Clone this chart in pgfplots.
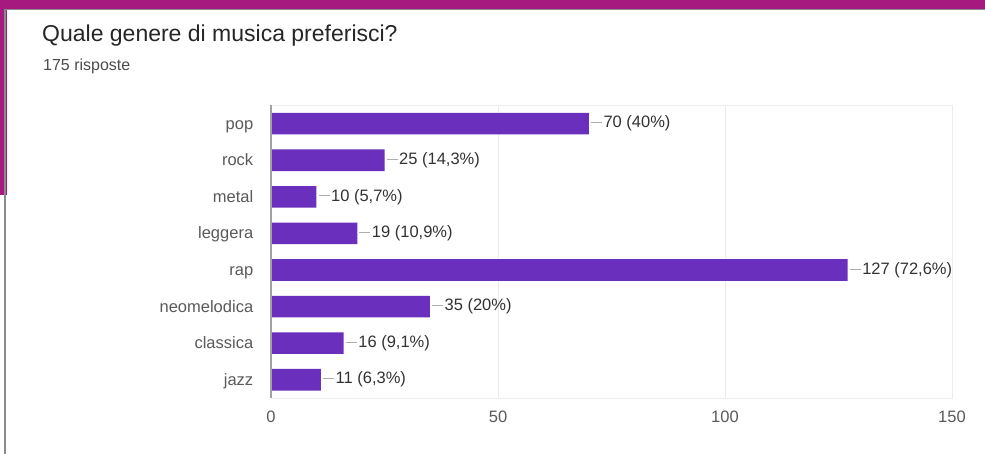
\documentclass[border=0pt]{standalone}
\usepackage{pgfplots}
\pgfplotsset{compat=1.18}
\usepackage{fontspec}
\setmainfont{Liberation Sans}
\definecolor{barpurple}{HTML}{6A2FBC}
\definecolor{magentaband}{HTML}{A6197F}
\definecolor{framegray}{HTML}{8A8A8A}
\definecolor{labelgray}{HTML}{5A5A5A}
\definecolor{valgray}{HTML}{333333}
\definecolor{gridgray}{HTML}{ECECEC}
\begin{document}
\begin{tikzpicture}
\path[use as bounding box, fill=white] (0pt,0pt) rectangle (985pt,454pt);
% decorative frame
\fill[magentaband] (0pt,445pt) rectangle (985pt,454pt);
\fill[magentaband] (0pt,259pt) rectangle (7pt,454pt);
\draw[framegray, line width=1.2pt] (5pt,0pt) -- (5pt,444.4pt) -- (985pt,444.4pt);
% titles
\node[anchor=base west, inner sep=0pt, text=black!85, font=\fontsize{23}{27}\selectfont] at (42pt,412pt) {Quale genere di musica preferisci?};
\node[anchor=base west, inner sep=0pt, text=black!70, font=\fontsize{16}{19}\selectfont] at (43pt,383pt) {175 risposte};
\begin{axis}[
  at={(271pt,56pt)}, anchor=south west,
  scale only axis, width=681pt, height=292.6pt,
  xmin=0, xmax=150, ymin=-0.5, ymax=7.5,
  xbar, bar width=21.6pt,
  axis line style={gridgray},
  xtick={0,50,100,150},
  xmajorgrids, grid style={gridgray, line width=0.8pt},
  ytick={0,...,7},
  yticklabels={jazz,classica,neomelodica,rap,leggera,metal,rock,pop},
  tick style={draw=none},
  yticklabel style={text=labelgray, font=\fontsize{16.5}{19}\selectfont, anchor=base east, xshift=-10pt, yshift=-5.5pt},
  xticklabel style={text=labelgray, font=\fontsize{16.5}{19}\selectfont, yshift=-9pt},
  /pgf/number format/assume math mode=true,
  point meta=explicit symbolic,
  nodes near coords={{\color{framegray!70}\rule[0.3em]{11pt}{0.8pt}}\hspace{1.5pt}\pgfplotspointmeta},
  every node near coord/.append style={anchor=west, inner sep=0pt, xshift=2pt, text=valgray, font=\fontsize{16.5}{19}\selectfont},
  clip=false,
]
\addplot[fill=barpurple, draw=none] coordinates {
  (70,7) [70 (40\%)]
  (25,6) [25 (14,3\%)]
  (10,5) [10 (5,7\%)]
  (19,4) [19 (10,9\%)]
  (127,3) [127 (72,6\%)]
  (35,2) [35 (20\%)]
  (16,1) [16 (9,1\%)]
  (11,0) [11 (6,3\%)]
};
\draw[framegray!80, line width=1.3pt] (axis cs:0,-0.5) -- (axis cs:0,7.5);
\end{axis}
\end{tikzpicture}
\end{document}
